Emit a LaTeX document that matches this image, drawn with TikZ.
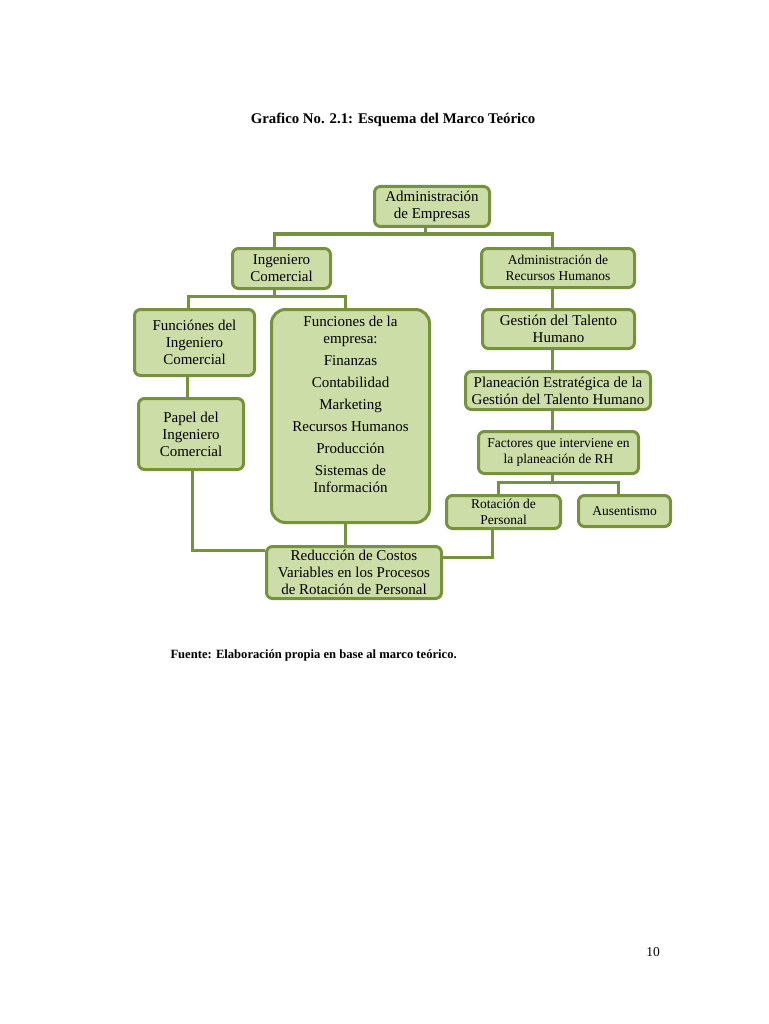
\documentclass[tikz,border=0pt]{standalone}
\usepackage{fontspec}
\setmainfont{Liberation Serif}
\definecolor{olv}{HTML}{76923C}
\definecolor{olvfill}{HTML}{CDDDA8}
\begin{document}
\begin{tikzpicture}[x=1pt,y=-1pt,
  box/.style={draw=olv,fill=olvfill,line width=3pt,rounded corners=6pt,inner sep=0pt,align=center,
    font=\fontsize{15}{17}\selectfont},
  smallbox/.style={box,font=\fontsize{13.5}{16}\selectfont},
  conn/.style={draw=olv,line width=3pt}]
\useasboundingbox[fill=white] (0,0) rectangle (768,1024);
\node[font=\bfseries\fontsize{14.8}{17}\selectfont] (title) at (393,120) {Grafico No. 2.1: Esquema del Marco Teórico};
% boxes
\node[box,minimum width=115,minimum height=40] (A) at (432,206.5) {Administración\\de Empresas};
\node[box,minimum width=98,minimum height=40] (IC) at (281.5,268.5) {Ingeniero\\Comercial};
\node[smallbox,minimum width=153,minimum height=39] (ARH) at (558,268) {Administración de\\Recursos Humanos};
\node[box,minimum width=120,minimum height=66] (FIC) at (194.5,342.5) {Funciónes del\\Ingeniero\\Comercial};
\node[box,rounded corners=14pt,minimum width=158,minimum height=213] (FE) at (350.5,416) {};
\node[font=\fontsize{15}{17}\selectfont,align=center,anchor=north,inner sep=0pt] (FEtext) at (350.5,316)
  {Funciones de la\\empresa:\\[5pt]Finanzas\\[5pt]Contabilidad\\[5pt]Marketing\\[5pt]Recursos Humanos\\[5pt]Producción\\[5pt]Sistemas de\\Información};
\node[box,minimum width=152,minimum height=39] (GTH) at (558.5,329) {Gestión del Talento\\Humano};
\node[box,minimum width=185,minimum height=38] (PE) at (558,390.5) {Planeación Estratégica de la\\Gestión del Talento Humano};
\node[smallbox,minimum width=160,minimum height=42] (F) at (558.5,452.5) {Factores que interviene en\\la planeación de RH};
\node[smallbox,minimum width=114,minimum height=33] (RP) at (503.5,512) {Rotación de\\Personal};
\node[smallbox,minimum width=92,minimum height=31] (Aus) at (624.5,511) {Ausentismo};
\node[box,minimum width=105,minimum height=71] (PIC) at (191,434) {Papel del\\Ingeniero\\Comercial};
\node[box,minimum width=175,minimum height=52] (R) at (354,572.5) {Reducción de Costos\\Variables en los Procesos\\de Rotación de Personal};
\node[font=\bfseries\fontsize{12.6}{15}\selectfont,anchor=west] (src) at (167,655) {Fuente: Elaboración propia en base al marco teórico.};
\node[font=\fontsize{13.5}{16}\selectfont] (pg) at (653,952) {10};
% connectors
\draw[conn] ([xshift=-7pt]A.south) -- ++(0,6) coordinate (ja);
\draw[conn] ([xshift=-7.5pt]IC.north) |- (ja) -| ([xshift=-6pt]ARH.north);
\draw[conn] ([xshift=-7.5pt]IC.south) -- ++(0,6) coordinate (jb);
\draw[conn] ([xshift=-6.5pt]FIC.north) |- (jb) -| ([xshift=-5.5pt]FE.north);
\draw[conn] ([xshift=-7.5pt]FIC.south) -- ([xshift=-4pt]PIC.north);
\draw[conn] ([xshift=1pt]PIC.south) |- ([yshift=22.5pt]R.west);
\draw[conn] ([xshift=-5.5pt]FE.south) -- ([xshift=-9pt]R.north);
\draw[conn] ([xshift=-6pt]ARH.south) -- ([xshift=-6.5pt]GTH.north);
\draw[conn] ([xshift=-6.5pt]GTH.south) -- ([xshift=-6pt]PE.north);
\draw[conn] ([xshift=-6pt]PE.south) -- ([xshift=-6.5pt]F.north);
\draw[conn] ([xshift=-6.5pt]F.south) -- ++(0,7) coordinate (jc);
\draw[conn] ([xshift=-5.5pt]RP.north) |- (jc) -| ([xshift=-6.5pt]Aus.north);
\draw[conn] ([xshift=-11.5pt]RP.south) |- ([yshift=15.5pt]R.east);
\end{tikzpicture}
\end{document}
